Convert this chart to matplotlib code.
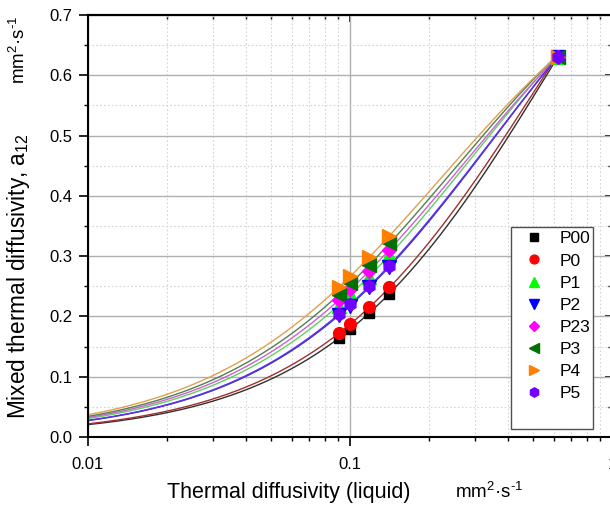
import numpy as np
import matplotlib
matplotlib.use("Agg")
import matplotlib.pyplot as plt
from matplotlib.patches import Rectangle
from matplotlib.ticker import MultipleLocator, LogLocator, NullFormatter, FixedFormatter, FixedLocator

plt.rcParams['font.family'] = ['Liberation Sans', 'DejaVu Sans']
plt.rcParams['mathtext.fontset'] = 'custom'
plt.rcParams['mathtext.rm'] = 'Liberation Sans'
plt.rcParams['mathtext.it'] = 'Liberation Sans:italic'

# --- DATA ---
x_liquid = [0.091, 0.100, 0.118, 0.141, 0.62]

series_names = ["P00", "P0", "P1", "P2", "P23", "P3", "P4", "P5"]
y_P00 = [0.164, 0.179, 0.205, 0.237, 0.630]
y_P0 = [0.172, 0.187, 0.215, 0.248, 0.630]
y_P1 = [0.218, 0.237, 0.266, 0.302, 0.630]
y_P2 = [0.202, 0.218, 0.248, 0.282, 0.630]
y_P23 = [0.227, 0.245, 0.275, 0.310, 0.630]
y_P3 = [0.235, 0.255, 0.286, 0.321, 0.630]
y_P4 = [0.248, 0.267, 0.298, 0.334, 0.630]
y_P5 = [0.204, 0.220, 0.250, 0.284, 0.630]
series_values = [y_P00, y_P0, y_P1, y_P2, y_P23, y_P3, y_P4, y_P5]

# --- STYLE ---
marker_colors = ['#000000', '#ff0000', '#00ff00', '#0000ff', '#ff00ff', '#007000', '#ff8000', '#7000ff']
line_colors = ['#303030', '#a03030', '#60d060', '#3030e0', '#d060d0', '#508050', '#e0a050', '#6030e0']
markers = ['s', 'o', '^', 'v', 'D', '<', '>', 'h']
msizes = [7, 8.5, 9.5, 9.5, 7, 9.5, 9.5, 9]

units = 'mm$\\mathregular{^{2}}$·s$\\mathregular{^{\\text{-}1}}$'

fig = plt.figure(figsize=(6.1, 5.08), dpi=100)
ax = fig.add_axes([88 / 610, 71 / 508, 524 / 610, 422 / 508])

ax.set_xscale('log')
ax.set_xlim(0.01, 1)
ax.set_ylim(0, 0.7)

# fitted mixing curves: 1/y = A/x + B through each series
x_fit = np.geomspace(0.01, x_liquid[-1], 300)
for i, (name, yv) in enumerate(zip(series_names, series_values)):
    xv = np.array(x_liquid)
    A, B = np.polyfit(1 / xv, 1 / np.array(yv), 1)
    ax.plot(x_fit, 1 / (A / x_fit + B), color=line_colors[i], lw=1.0, zorder=2)

handles = []
for i, (name, yv) in enumerate(zip(series_names, series_values)):
    h, = ax.plot(x_liquid, yv, linestyle='none', marker=markers[i], ms=msizes[i],
                 color=marker_colors[i], mec=marker_colors[i], label=name, zorder=3)
    handles.append(h)

# grid
ax.yaxis.set_major_locator(MultipleLocator(0.1))
ax.yaxis.set_minor_locator(MultipleLocator(0.05))
ax.xaxis.set_major_locator(FixedLocator([0.01, 0.1, 1]))
ax.xaxis.set_major_formatter(FixedFormatter(['0.01', '0.1', '1']))
ax.xaxis.set_minor_locator(LogLocator(base=10, subs=np.arange(2, 10)))
ax.xaxis.set_minor_formatter(NullFormatter())
ax.grid(True, which='major', color='#b0b0b0', lw=1.0, zorder=0)
ax.grid(True, which='minor', color='#d4d4d4', lw=0.8, ls=(0, (1.5, 2)), zorder=0)
ax.set_axisbelow(True)

ax.tick_params(axis='both', which='major', direction='out', length=6.5, width=1.2, labelsize=12)
ax.tick_params(axis='both', which='minor', direction='out', length=3, width=1.0)
ax.tick_params(axis='x', pad=8)
ax.tick_params(axis='y', pad=5)
ax.yaxis.set_major_formatter(matplotlib.ticker.FormatStrFormatter('%.1f'))
for s in ax.spines.values():
    s.set_linewidth(1.5)

# top and right ticks pointing in
top = ax.secondary_xaxis('top')
top.set_xscale('log')
top.xaxis.set_major_locator(FixedLocator([0.01, 0.1, 1]))
top.xaxis.set_minor_locator(LogLocator(base=10, subs=np.arange(2, 10)))
top.tick_params(which='major', direction='in', length=5, width=1.2, labeltop=False)
top.tick_params(which='minor', direction='in', length=3, width=1.0)
top.spines['top'].set_linewidth(1.5)
right = ax.secondary_yaxis('right')
right.yaxis.set_major_locator(MultipleLocator(0.1))
right.yaxis.set_minor_locator(MultipleLocator(0.05))
right.tick_params(which='major', direction='in', length=5, width=1.2, labelright=False)
right.tick_params(which='minor', direction='in', length=3, width=1.0)

# legend with a taller box behind it
ax.add_patch(Rectangle((0.807, 0.019), 0.157, 0.479, transform=ax.transAxes,
                       facecolor='white', edgecolor='#505050', lw=1.0, zorder=4))
leg = ax.legend(handles=handles, loc='upper left', bbox_to_anchor=(0.821, 0.504),
                frameon=False, fontsize=12.5, handlelength=1.0, handletextpad=1.0,
                labelspacing=0.4, borderaxespad=0, borderpad=0.4, markerscale=0.75)
leg.set_zorder(5)

# axis titles
fig.text(19 / 610, 1 - 276 / 508, 'Mixed thermal diffusivity, $\\mathregular{a_{12}}$',
         rotation=90, ha='center', va='center', fontsize=16.3)
fig.text(19 / 610, 1 - 50 / 508, units, rotation=90, ha='center', va='center', fontsize=13.5)
fig.text(167 / 610, 1 - 498 / 508, 'Thermal diffusivity (liquid)', ha='left', va='baseline', fontsize=15.5)
fig.text(455 / 610, 1 - 498 / 508, units, ha='left', va='baseline', fontsize=13.5)

fig.savefig('out.png', dpi=100, facecolor='white')
